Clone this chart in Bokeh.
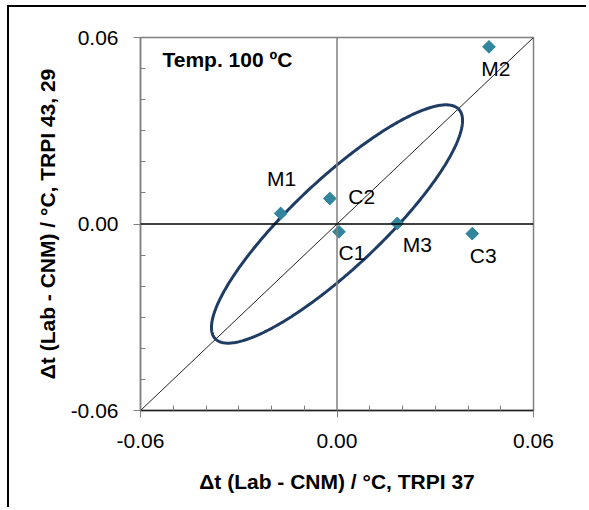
import numpy as np
from bokeh.plotting import figure
from bokeh.models import ColumnDataSource, Span, Label, FixedTicker, PrintfTickFormatter
from bokeh.core.properties import value
from bokeh.embed import file_html
from bokeh.resources import INLINE

# ---- data ----
names = ["M1", "M2", "M3", "C1", "C2", "C3"]
dx_lab37 = [-0.0172, 0.0464, 0.0184, 0.0006, -0.0022, 0.0413]
dy_lab4329 = [0.0034, 0.0570, 0.0002, -0.0025, 0.0082, -0.0031]

axis_limits = [-0.06, 0.06]
major_ticks = [-0.06, 0.0, 0.06]
minor_ticks = [-0.05, -0.04, -0.03, -0.02, -0.01, 0.01, 0.02, 0.03, 0.04, 0.05]

# confidence ellipse parameters (centre, semi-axes, orientation in degrees)
ell_center = (0.0, 0.0)
ell_semi_major = 0.0524
ell_semi_minor = 0.0139
ell_angle_deg = 45.0

# label offsets in screen px (right, down)
lab_dx = [1, 7, 20, 13, 32, 11]
lab_dy = [-35, 22, 21, 21, -2, 22]

FONT = "Liberation Sans"

p = figure(width=579, height=502, output_backend="svg", toolbar_location=None,
           x_range=tuple(axis_limits), y_range=tuple(axis_limits),
           min_border_left=131, min_border_top=30, min_border_right=55, min_border_bottom=99)
p.styles = {"margin-left": "7px", "margin-top": "5px",
            "border-left": "2px solid black", "border-top": "2px solid black"}
p.xgrid.visible = False
p.ygrid.visible = False
p.outline_line_color = "#808080"
p.outline_line_width = 1.5
p.background_fill_color = "white"
p.border_fill_color = "white"

for ax, col in ((p.xaxis, "#202020"), (p.yaxis, "#808080")):
    ax.ticker = FixedTicker(ticks=major_ticks, minor_ticks=minor_ticks)
    ax.formatter = PrintfTickFormatter(format="%.2f")
    ax.axis_line_color = col
    ax.axis_line_width = 1.5
    ax.major_tick_line_color = "#808080"
    ax.minor_tick_line_color = "#808080"
    ax.major_tick_out = 7
    ax.major_tick_in = 0
    ax.minor_tick_out = 0
    ax.minor_tick_in = 5
    ax.major_label_text_font = FONT
    ax.major_label_text_font_size = "21px"
    ax.major_label_text_color = "black"
    ax.axis_label_text_font = FONT
    ax.axis_label_text_font_size = "21px"
    ax.axis_label_text_font_style = "bold"
    ax.axis_label_text_color = "black"

p.xaxis.axis_label = "\u0394t (Lab - CNM) / \u00b0C, TRPI 37"
p.yaxis.axis_label = "\u0394t (Lab - CNM) / \u00b0C, TRPI 43, 29"
p.xaxis.major_label_standoff = 16
p.yaxis.major_label_standoff = 15
p.xaxis.axis_label_standoff = 19
p.yaxis.axis_label_standoff = 9

# zero lines
p.add_layout(Span(location=0, dimension="height", line_color="#808080", line_width=1.5))
p.add_layout(Span(location=0, dimension="width", line_color="black", line_width=1.3))

# 1:1 diagonal
p.line(x=axis_limits, y=axis_limits, line_color="#222222", line_width=1)

# ellipse
t = np.linspace(0, 2 * np.pi, 361)
ang = np.deg2rad(ell_angle_deg)
ex = ell_center[0] + ell_semi_major * np.cos(t) * np.cos(ang) - ell_semi_minor * np.sin(t) * np.sin(ang)
ey = ell_center[1] + ell_semi_major * np.cos(t) * np.sin(ang) + ell_semi_minor * np.sin(t) * np.cos(ang)
p.line(x=ex, y=ey, line_color="#1F3C64", line_width=3)

src = ColumnDataSource(dict(x=dx_lab37, y=dy_lab4329, name=names, dx=lab_dx, dy=lab_dy))
p.scatter(x="x", y="y", source=src, marker="square", size=9, angle=np.pi / 4,
          fill_color="#31859C", line_color="#31859C")
p.text(x="x", y="y", text="name", source=src, x_offset="dx", y_offset="dy",
       text_font=value(FONT), text_font_size=value("21px"), text_color="black",
       text_align="center", text_baseline="middle")

p.add_layout(Label(x=axis_limits[0], y=axis_limits[1], x_offset=22, y_offset=-22,
                   text="Temp. 100 \u00baC", text_font=FONT, text_font_size="21px",
                   text_font_style="bold", text_baseline="alphabetic", text_color="black"))

open("out.html", "w").write(file_html(p, INLINE))
